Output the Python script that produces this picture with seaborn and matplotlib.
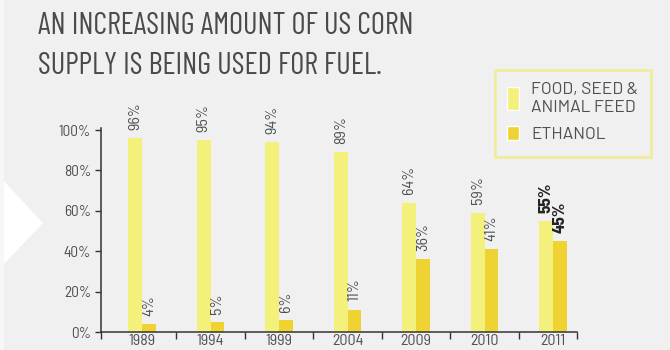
import numpy as np
import pandas as pd
import matplotlib
matplotlib.use("Agg")
import matplotlib.pyplot as plt
import seaborn as sns
from matplotlib.patches import Patch, Polygon, Rectangle
from matplotlib.legend_handler import HandlerPatch

# ---- data -------------------------------------------------------------
years = ["1989", "1994", "1999", "2004", "2009", "2010", "2011"]
food_seed_feed = [96, 95, 94, 89, 64, 59, 55]
ethanol = [4, 5, 6, 11, 36, 41, 45]
series_names = ["FOOD, SEED &\nANIMAL FEED", "ETHANOL"]
y_ticks = [0, 20, 40, 60, 80, 100]
y_tick_labels = ["0%", "20%", "40%", "60%", "80%", "100%"]
title_lines = ["AN INCREASING AMOUNT OF US CORN",
               "SUPPLY IS BEING USED FOR FUEL."]

df = pd.DataFrame({
    "year": years * 2,
    "share": food_seed_feed + ethanol,
    "use": [series_names[0]] * len(years) + [series_names[1]] * len(years),
})

# ---- style ------------------------------------------------------------
BG = "#f0f0f0"
FOOD = "#f4f07c"
ETH = "#efd333"
FRAME = "#f1ec7c"
INK = "#333333"
TXT = "#505050"
FALLBACK = ["IBM Plex Sans Condensed", "Roboto", "DejaVu Sans"]

sns.set_theme(style="white")
plt.rcParams["font.family"] = ["Barlow Semi Condensed"] + FALLBACK

fig = plt.figure(figsize=(6.7, 3.5), dpi=100, facecolor=BG)

# white chevron cut into the left edge
fig.patches.append(Polygon([(0, 1 - 177 / 350), (43 / 670, 1 - 223 / 350), (0, 1 - 268 / 350)],
                           closed=True, transform=fig.transFigure,
                           facecolor="white", edgecolor="none", zorder=0))
fig.patches.append(Rectangle((0, 0), 4 / 670, 1, transform=fig.transFigure,
                             facecolor="#f7f7f7", edgecolor="none", zorder=0))

ax = fig.add_axes([101 / 670, 18 / 350, 476 / 670, 204 / 350])
ax.set_facecolor(BG)

sns.barplot(data=df, x="year", y="share", hue="use", palette=[FOOD, ETH],
            width=0.4, dodge=True, saturation=1, legend=False, ax=ax,
            edgecolor="none", linewidth=0)

ax.set_xlim(-0.6, 6.35)
ax.set_ylim(0, 101)

# rotated value labels above each bar
for container, values in zip(ax.containers, [food_seed_feed, ethanol]):
    texts = ax.bar_label(container, labels=[f"{v}%" for v in values],
                         rotation=90, padding=6, fontsize=11.5, color=TXT)
    texts[-1].set_fontweight("bold")
    texts[-1].set_color("#222222")
    texts[-1].set_fontsize(12.5)

# axes
for side in ["top", "right"]:
    ax.spines[side].set_visible(False)
for side in ["left", "bottom"]:
    ax.spines[side].set_color(INK)
    ax.spines[side].set_linewidth(1.1)

ax.set_yticks(y_ticks)
ax.set_yticklabels(y_tick_labels)
ax.tick_params(axis="y", direction="out", length=4, width=1, color=INK,
               labelsize=11, labelcolor=TXT, pad=3, left=True)
ax.set_xticks(range(len(years)))
ax.set_xticklabels(years)
ax.set_xticks([-0.6] + [i + 0.5 for i in range(len(years) - 1)] + [6.35], minor=True)
ax.tick_params(axis="x", which="major", length=0, labelsize=11.5, labelcolor=TXT, pad=1.5)
ax.tick_params(axis="x", which="minor", direction="out", length=5, width=1,
               color=INK, bottom=True)
ax.set_xlabel("")
ax.set_ylabel("")

# title
for i, line in enumerate(title_lines):
    fig.text(38 / 670, 1 - (33.5 + 40.5 * i) / 350, line, fontsize=22, fontweight="normal",
             family=["Barlow Condensed"] + FALLBACK,
             color="#4a4a4a", va="baseline", ha="left")


# legend
def short_patch(legend, orig_handle, xdescent, ydescent, width, height, fontsize):
    return Rectangle((-xdescent, -ydescent + height * 0.22), width, height * 0.6)


handles = [Patch(facecolor=FOOD), Patch(facecolor=ETH)]
leg = fig.legend(handles=handles, labels=series_names, loc="upper left",
                 bbox_to_anchor=(495 / 670, 1 - 70 / 350), frameon=True,
                 fancybox=False, facecolor=BG, edgecolor=FRAME,
                 prop={"family": ["Barlow"] + FALLBACK, "size": 12.5},
                 handlelength=0.7, handleheight=1.65, handletextpad=0.7,
                 borderpad=0.7, labelspacing=0.45, borderaxespad=0,
                 handler_map={handles[1]: HandlerPatch(patch_func=short_patch)})
leg.get_frame().set_linewidth(1.8)
for t in leg.get_texts():
    t.set_color(TXT)

fig.savefig("out.png", dpi=100, facecolor=BG)
